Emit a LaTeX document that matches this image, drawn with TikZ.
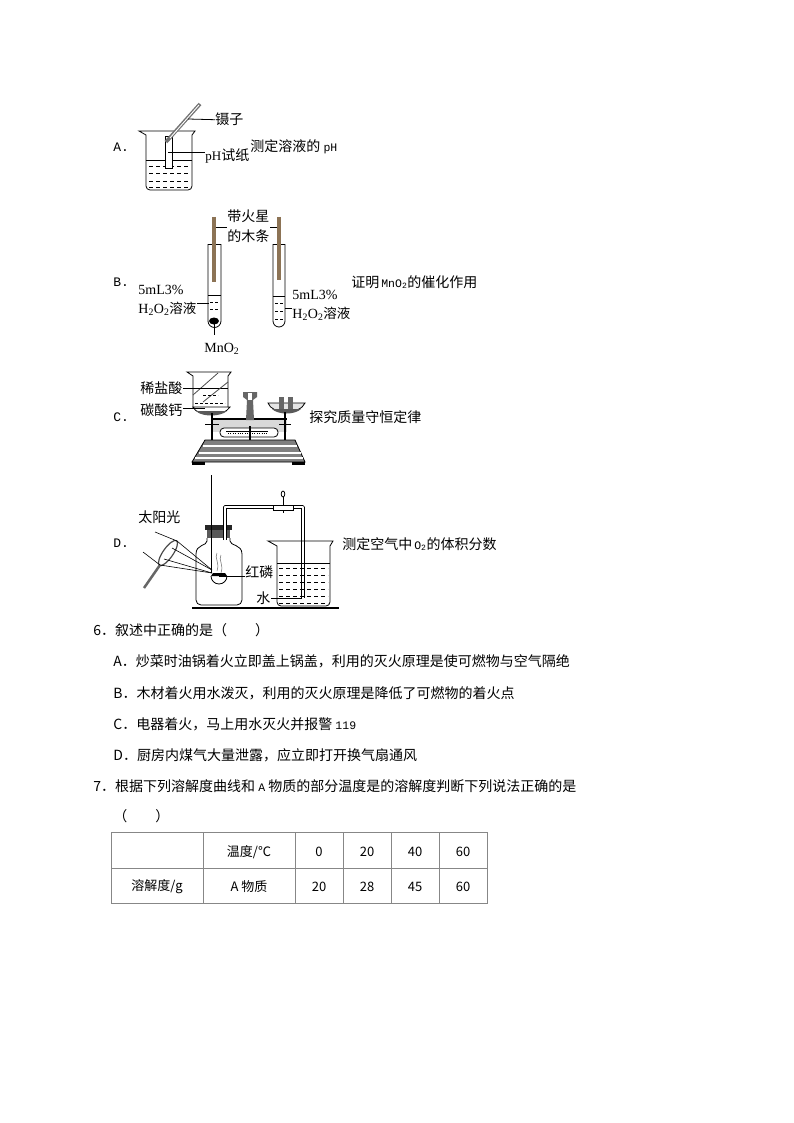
\documentclass[tikz,border=0pt]{standalone}
\usepackage{fontspec}
\setmainfont{Noto Sans CJK SC}
\newfontfamily\ltn{Liberation Serif}
\newfontfamily\ltm{Liberation Mono}
\newcommand{\twoSub}{\textsubscript{2}}
\newcommand{\monoTxt}[1]{{\ltm\fontsize{11.5}{12}\selectfont #1}}
\definecolor{splint}{RGB}{140,115,85}
\definecolor{cellgray}{RGB}{135,135,135}
\usetikzlibrary{positioning}

\begin{document}
\begin{tikzpicture}[x=1pt,y=1pt,line width=0.8pt,
txt/.style={anchor=base west,inner sep=0pt,font=\fontsize{14}{14}\selectfont},
opt/.style={anchor=base west,inner sep=0pt,font=\ltm\fontsize{13}{13}\selectfont},
rmtxt/.style={anchor=base west,inner sep=0pt,font=\ltn\fontsize{14}{14}\selectfont},
cell/.style={inner sep=0pt,font=\fontsize{13}{13}\selectfont},
liquid/.style={line width=0.6pt,dash pattern=on 4pt off 3pt},
shortliquid/.style={line width=0.6pt,dash pattern=on 3pt off 2pt},
thinline/.style={line width=0.8pt,black},
tube/.style={double=white,double distance=2.2pt,line width=0.7pt,line join=round}]
\useasboundingbox (0,0) rectangle (794,-1123);
\fill [white] (0,0) rectangle (794,-1123);

\node (optA) [opt] at (113,-152) {A.};
\node (goalA) [txt] at (250,-152) {测定溶液的 \monoTxt{pH}};
\node (tweezers) [txt] at (215,-125) {镊子};
\node (paperlab) [txt] at (205,-161) {{\ltn\fontsize{13}{13}\selectfont pH}试纸};
\coordinate (tweezerpt) at (188,-119);
\coordinate (paperpt) at (168,-152);
\draw [black] (139,-131) -- (195,-131) -- (192,-135) -- (192,-186) arc (0:-90:4) -- (150,-190) arc (270:180:4) -- (146,-135) -- cycle;
\draw [black] (146,-160) -- (192,-160);
\draw [liquid] (149,-166) -- (190,-166);
\draw [liquid] (149,-173) -- (190,-173);
\draw [liquid] (149,-181) -- (190,-181);
\draw [liquid] (149,-187) -- (190,-187);
\draw [black,fill=white] (165,-136) rectangle (172,-168);
\draw [black!55,line width=3.6pt] (166,-142) -- (200,-104);
\draw [white,line width=0.9pt] (170,-138) -- (199,-105);
\draw [thinline] (tweezerpt) -- (tweezers.west);
\draw [thinline] (paperpt) -- (paperlab.west |- paperpt);

\node (optB) [opt] at (113,-286) {B.};
\node (goalB) [txt] at (351,-287) {证明\monoTxt{\,MnO\textsubscript{2}}的催化作用};
\node (splintlab1) [txt] at (227,-222) {带火星};
\node (splintlab2) [txt] at (227,-241) {的木条};
\node (volL) [rmtxt] at (138,-294) {5mL3\%};
\node (solL) [rmtxt] at (138,-313) {H\twoSub O\twoSub{\rmfamily\fontsize{13.5}{14}\selectfont 溶液}};
\node (volR) [rmtxt] at (292,-299) {5mL3\%};
\node (solR) [rmtxt] at (292,-318) {H\twoSub O\twoSub{\rmfamily\fontsize{13.5}{14}\selectfont 溶液}};
\node (mno) [rmtxt] at (204,-352) {MnO\twoSub};
\coordinate (splintL) at (216,-227);
\coordinate (splintR) at (277,-227);
\coordinate (liqL) at (209,-303);
\coordinate (liqR) at (285,-308);
\coordinate (blob) at (214,-321);
\draw [black] (208,-244) -- (221,-244);
\draw [black] (208,-244) -- (208,-321) arc (180:360:6.5) -- (221,-244);
\draw [black] (273,-244) -- (285,-244);
\draw [black] (273,-244) -- (273,-321) arc (180:360:6) -- (285,-244);
\draw [black] (208,-295) -- (221,-295);
\draw [black] (273,-296) -- (285,-296);
\draw [shortliquid] (210,-302) -- (219,-302);
\draw [shortliquid] (210,-309) -- (219,-309);
\draw [shortliquid] (275,-303) -- (284,-303);
\draw [shortliquid] (275,-311) -- (284,-311);
\draw [shortliquid] (275,-319) -- (284,-319);
\draw [splint,line width=3.5pt] (214,-217) -- (214,-282);
\draw [splint,line width=3.5pt] (279,-217) -- (279,-280);
\fill [black] (blob) ellipse (5 and 3.5);
\draw [thinline] (splintL) -- (splintlab1.west |- splintL);
\draw [thinline] (splintR) -- (splintlab1.east |- splintR);
\draw [thinline] (solL.east |- liqL) -- (liqL);
\draw [thinline] (liqR) -- (solR.west |- liqR);
\draw [thinline] (blob) -- (214,-335);

\node (optC) [opt] at (113,-421) {C.};
\node (goalC) [txt] at (309,-422) {探究质量守恒定律};
\node (acid) [txt] at (140,-393) {稀盐酸};
\node (carb) [txt] at (140,-415) {碳酸钙};
\coordinate (acidpt) at (215,-388);
\coordinate (carbpt) at (205,-408);
\draw [black,fill=white] (187,-372) -- (231,-372) -- (228,-376) -- (228,-408) -- (193,-408) -- (193,-376) -- cycle;
\draw [black] (193,-388) -- (228,-388);
\draw [black!70] (193,-395) -- (218,-373);
\draw [black!70] (203,-402) -- (228,-382);
\draw [shortliquid] (203,-395) -- (218,-395);
\draw [shortliquid] (195,-403) -- (225,-403);
\draw [black,fill=white] (193,-407) .. controls (197,-417) and (224,-417) .. (230,-407) -- cycle;
\fill [black!65] (196,-411) .. controls (202,-417) and (220,-417) .. (227,-411) -- cycle;
\draw [black,fill=black!10] (268,-403) .. controls (272,-415) and (300,-415) .. (305,-403) -- cycle;
\fill [black!65] (272,-409) .. controls (278,-415) and (295,-415) .. (301,-409) -- cycle;
\fill [black!60] (279,-397) rectangle (284,-409);
\fill [black!60] (288,-397) rectangle (293,-409);
\fill [black!15] (212,-420) rectangle (287,-432);
\draw [black,line width=2pt] (212,-419) -- (287,-419);
\draw [black,line width=2pt] (212,-413) -- (212,-441);
\draw [black,line width=2pt] (285,-412) -- (285,-441);
\draw [black,line width=1pt] (205,-424) -- (219,-424);
\draw [black,line width=1pt] (279,-424) -- (291,-424);
\fill [black!60] (243,-392) -- (257,-392) -- (257,-397) -- (253,-400) -- (254,-420) -- (246,-420) -- (247,-400) -- (243,-397) -- cycle;
\fill [white] (248,-393) rectangle (252,-400);
\draw [black,fill=white,rounded corners=4pt] (220,-428) rectangle (278,-437);
\draw [black] (226,-431) -- (268,-431);
\draw [black,line width=0.5pt,dash pattern=on 0.6pt off 1.8pt] (228,-433) -- (268,-433);
\draw [black,line width=2.5pt] (250,-426) -- (250,-444);
\draw [black,fill=black!50] (205,-440) -- (295,-440) -- (305,-462) -- (192,-462) -- cycle;
\fill [white] (203,-445) rectangle (297,-447);
\fill [white] (199,-452) rectangle (301,-454);
\fill [white] (195,-457) rectangle (303,-459);
\fill [black] (192,-462) rectangle (205,-465);
\fill [black] (292,-462) rectangle (305,-465);
\draw [thinline] (acid.east |- acidpt) -- (acidpt);
\draw [thinline] (carb.east |- carbpt) -- (carbpt);

\node (optD) [opt] at (113,-547) {D.};
\node (goalD) [txt] at (342,-549) {测定空气中\monoTxt{\,O\textsubscript{2}}的体积分数};
\node (sun) [txt] at (138,-522) {太阳光};
\node (phos) [txt] at (245,-577) {红磷};
\node (water) [txt] at (256,-603) {水};
\coordinate (spoon) at (219,-576);
\coordinate (tubeend) at (302,-598);
\draw [black,line width=2.5pt] (192,-608) -- (339,-608);
\draw [black] (207,-538) -- (207,-541) .. controls (207,-546) and (196,-544) .. (196,-554) -- (196,-600) arc (180:270:5) -- (237,-605) arc (270:360:5) -- (242,-554) .. controls (242,-544) and (230,-546) .. (230,-541) -- (230,-538);
\fill [black!65] (207,-530) rectangle (230,-538);
\fill [black!85] (205,-525) rectangle (232,-530);
\draw [black] (211,-475) -- (211,-573);
\draw [black!60,line width=0.5pt] (217,-553) .. controls (214,-558) and (220,-562) .. (217,-571);
\draw [black!60,line width=0.5pt] (221,-555) .. controls (218,-560) and (224,-564) .. (221,-573);
\draw [black] (211,-576) arc (180:360:8);
\fill [black] (211,-576) -- (227,-576) -- (225,-573) -- (213,-573) -- cycle;
\draw [tube] (225,-540) -- (225,-507) -- (303,-507) -- (303,-598);
\draw [black,fill=white] (273,-505) rectangle (293,-510);
\draw [black] (283,-494) ellipse (1.8 and 3);
\draw [black] (283,-497) -- (283,-505);
\draw [black] (283,-510) -- (283,-513);
\draw [black] (268,-541) -- (333,-541) -- (330,-546) -- (330,-602) arc (0:-90:4) -- (281,-606) arc (270:180:4) -- (277,-546) -- cycle;
\draw [black] (277,-563) -- (330,-563);
\draw [liquid] (279,-568) -- (328,-568);
\draw [liquid] (279,-575) -- (328,-575);
\draw [liquid] (279,-582) -- (328,-582);
\draw [liquid] (279,-589) -- (328,-589);
\draw [liquid] (279,-596) -- (328,-596);
\draw [liquid] (279,-603) -- (328,-603);
\draw [black!70,line width=1.2pt,fill=white,rotate around={55:(168,-553)}] (168,-553) ellipse (15 and 5);
\draw [black!60,line width=2.5pt] (160,-565) -- (144,-588);
\draw [black,line width=0.6pt] (155,-532) -- (177,-541);
\draw [black,line width=0.6pt] (143,-552) -- (160,-565);
\draw [black,line width=0.6pt] (177,-541) -- (212,-570);
\draw [black,line width=0.6pt] (160,-565) -- (212,-573);
\draw [black,line width=0.6pt] (172,-548) -- (212,-570);
\draw [black,line width=0.6pt] (164,-559) -- (212,-573);
\draw [thinline] (spoon) -- (phos.west |- spoon);
\draw [thinline] (tubeend) -- (water.east |- tubeend);

\node (q6) [txt] at (93,-635) {6．叙述中正确的是（\hspace{28pt}）};
\node (q6a) [txt] at (113,-666) {A．炒菜时油锅着火立即盖上锅盖，利用的灭火原理是使可燃物与空气隔绝};
\node (q6b) [txt] at (113,-698) {B．木材着火用水泼灭，利用的灭火原理是降低了可燃物的着火点};
\node (q6c) [txt] at (113,-729) {C．电器着火，马上用水灭火并报警 \monoTxt{119}};
\node (q6d) [txt] at (113,-760) {D．厨房内煤气大量泄露，应立即打开换气扇通风};
\node (q7) [txt] at (93,-791) {7．根据下列溶解度曲线和 \monoTxt{A} 物质的部分温度是的溶解度判断下列说法正确的是};
\node (q7b) [txt] at (113,-821) {（\hspace{28pt}）};

\draw [cellgray] (111.5,-832.5) rectangle (487,-903.5);
\draw [cellgray] (111.5,-868) -- (487,-868);
\draw [cellgray] (203,-832.5) -- (203,-903.5);
\draw [cellgray] (295.5,-832.5) -- (295.5,-903.5);
\draw [cellgray] (343,-832.5) -- (343,-903.5);
\draw [cellgray] (391,-832.5) -- (391,-903.5);
\draw [cellgray] (439,-832.5) -- (439,-903.5);
\node (tcap) [cell] at (249,-852) {温度/℃};
\node (t0) [cell] at (319,-852) {0};
\node (t20) [cell] at (367,-852) {20};
\node (t40) [cell] at (415,-852) {40};
\node (t60) [cell] at (463,-852) {60};
\node (scap) [cell] at (157,-887) {溶解度/g};
\node (sname) [cell] at (249,-887) {A 物质};
\node (s0) [cell] at (319,-887) {20};
\node (s20) [cell] at (367,-887) {28};
\node (s40) [cell] at (415,-887) {45};
\node (s60) [cell] at (463,-887) {60};
\end{tikzpicture}
\end{document}
